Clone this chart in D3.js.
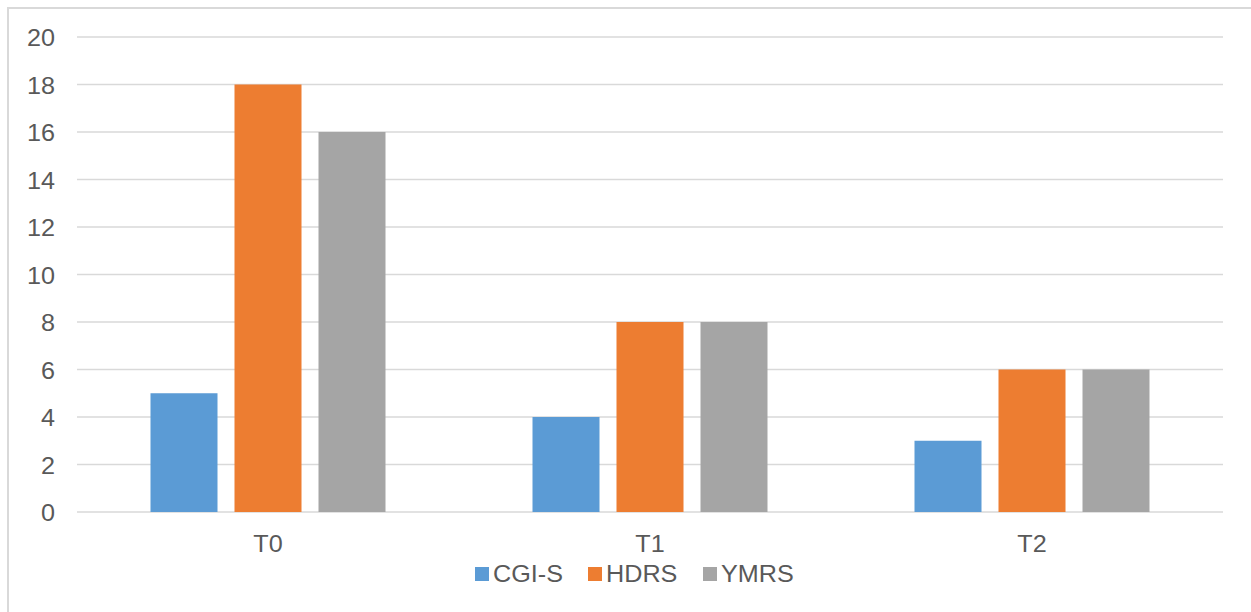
<!DOCTYPE html>
<html>
<head>
<meta charset="utf-8">
<script src="https://cdn.jsdelivr.net/npm/d3@7"></script>
<style>
  html, body { margin: 0; padding: 0; background: #fff; }
  svg { display: block; }
  text { font-family: "Liberation Sans", Arial, sans-serif; fill: #595959; }
</style>
</head>
<body>
<svg id="chart" width="1251" height="612"></svg>
<script>
// Assessment time points and scale scores
const categories = ["T0", "T1", "T2"];
const seriesNames = ["CGI-S", "HDRS", "YMRS"];
const cgiS = [5, 4, 3];
const hdrs = [18, 8, 6];
const ymrs = [16, 8, 6];
const yTicks = [0, 2, 4, 6, 8, 10, 12, 14, 16, 18, 20];
const colors = ["#5B9BD5", "#ED7D31", "#A5A5A5"];

const seriesValues = [cgiS, hdrs, ymrs];

const svg = d3.select("#chart");
const W = 1251, H = 612;
const plot = { left: 77, right: 1223, top: 37, bottom: 512 };
const fontSize = "24px";
const stretch = "scale(1.05,1)"; // slightly wide lettering

// Chart frame
svg.append("rect")
  .attr("x", 8).attr("y", 8)
  .attr("width", W).attr("height", H)
  .attr("fill", "none")
  .attr("stroke", "#d9d9d9")
  .attr("stroke-width", 2);

const y = d3.scaleLinear().domain([0, 20]).range([plot.bottom, plot.top]);
const x0 = d3.scaleBand().domain(categories).range([plot.left, plot.right]).padding(0);

// Bars within each category: 67px wide, 17px gap
const barW = 67, barGap = 17;
const groupW = seriesNames.length * barW + (seriesNames.length - 1) * barGap;
const x1 = d3.scaleBand().domain(seriesNames)
  .range([0, groupW]).paddingInner(barGap / (barW + barGap)).paddingOuter(0);

// Value axis labels
const yAxis = d3.axisLeft(y).tickValues(yTicks).tickSize(0).tickPadding(0);
const gY = svg.append("g").attr("transform", `translate(${plot.left},0)`).call(yAxis);
gY.select(".domain").remove();
gY.selectAll("text").style("font-size", fontSize).attr("fill", "#595959")
  .attr("x", 0).attr("dy", "0.36em").attr("transform", `translate(-22,0) ${stretch}`);

// Gridlines
svg.append("g").selectAll("line").data(yTicks).join("line")
  .attr("x1", plot.left).attr("x2", plot.right)
  .attr("y1", d => y(d)).attr("y2", d => y(d))
  .attr("stroke", "#d9d9d9").attr("stroke-width", 1.3);

// Bars
const groups = svg.append("g").selectAll("g").data(categories).join("g")
  .attr("transform", d => `translate(${x0(d) + (x0.bandwidth() - groupW) / 2},0)`);

groups.selectAll("rect")
  .data((c, i) => seriesNames.map((s, j) => ({ s, v: seriesValues[j][i], j })))
  .join("rect")
  .attr("x", d => x1(d.s))
  .attr("width", x1.bandwidth())
  .attr("y", d => y(d.v))
  .attr("height", d => y(0) - y(d.v))
  .attr("fill", d => colors[d.j]);

// Category axis labels
const xAxis = d3.axisBottom(x0).tickSize(0).tickPadding(0);
const gX = svg.append("g").attr("transform", `translate(0,${plot.bottom})`).call(xAxis);
gX.select(".domain").remove();
gX.selectAll("text").style("font-size", fontSize).attr("fill", "#595959")
  .attr("dy", null).attr("y", 0).attr("transform", `translate(0,40) ${stretch}`);

// Legend
const legendX = [475, 588, 703];
const legend = svg.append("g").selectAll("g").data(seriesNames).join("g")
  .attr("transform", (d, i) => `translate(${legendX[i]},567)`);
legend.append("rect").attr("x", 0).attr("y", 0).attr("width", 14).attr("height", 14)
  .attr("fill", (d, i) => colors[i]);
legend.append("text").attr("transform", `translate(18,15) ${stretch}`).style("font-size", fontSize)
  .text(d => d);
</script>
</body>
</html>
